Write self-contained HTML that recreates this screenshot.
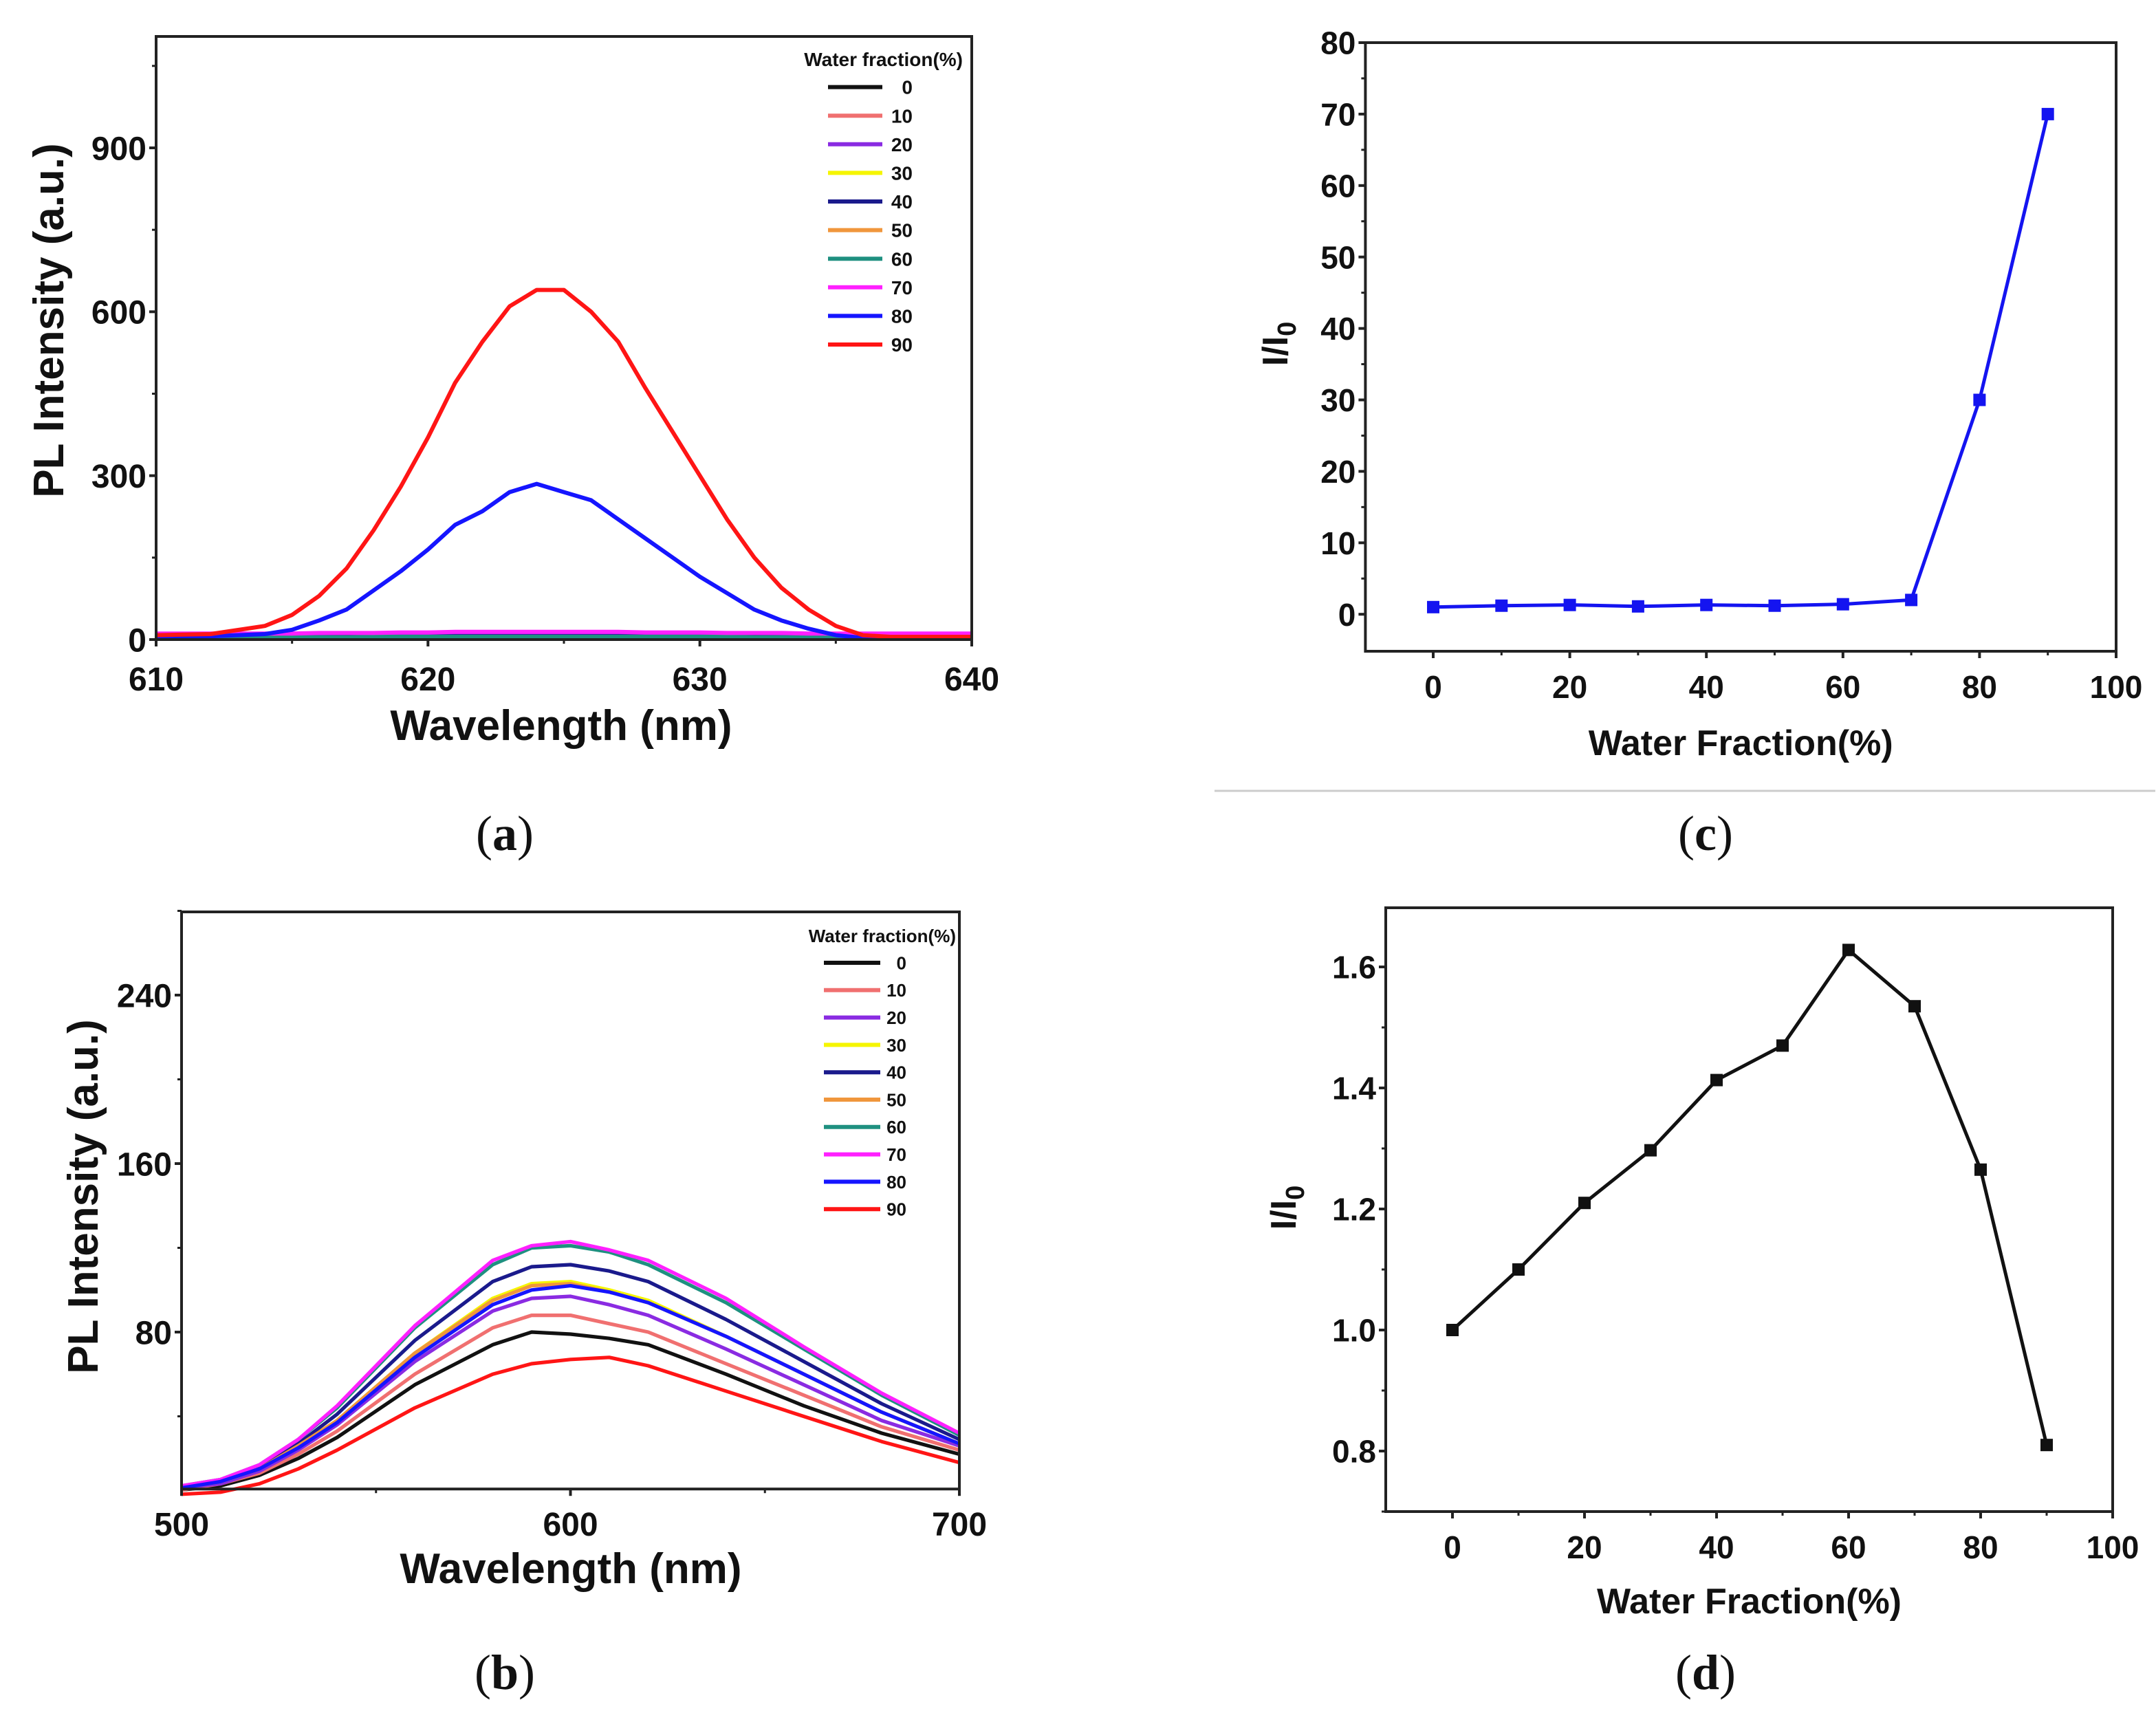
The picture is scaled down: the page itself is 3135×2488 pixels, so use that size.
<!DOCTYPE html>
<html><head><meta charset="utf-8"><style>
html,body{margin:0;padding:0;background:#fff;}
svg{display:block;}
text{font-family:"Liberation Sans",Arial,sans-serif;font-weight:bold;fill:#111;}
.lbl{font-family:"Liberation Serif",serif;font-weight:normal;font-size:36px;}
</style></head><body>
<svg id="fig" width="3135" height="2488" viewBox="0 0 1567.5 1244" xmlns="http://www.w3.org/2000/svg">
<rect x="0" y="0" width="1567.5" height="1244" fill="#fff"/>
<line x1="883" y1="575" x2="1567" y2="575" stroke="#ccc" stroke-width="1.5"/>
<text class="lbl" x="367" y="618" text-anchor="middle">(<tspan font-weight="bold">a</tspan>)</text>
<text class="lbl" x="1240" y="618" text-anchor="middle">(<tspan font-weight="bold">c</tspan>)</text>
<text class="lbl" x="367" y="1228" text-anchor="middle">(<tspan font-weight="bold">b</tspan>)</text>
<text class="lbl" x="1240" y="1228" text-anchor="middle">(<tspan font-weight="bold">d</tspan>)</text>
</svg>
<script>
const NS='http://www.w3.org/2000/svg';
const svg=document.getElementById('fig');
function mk(tag,attrs,parent,txt){const e=document.createElementNS(NS,tag);for(const k in attrs)e.setAttribute(k,attrs[k]);if(txt!==undefined)e.textContent=txt;(parent||svg).appendChild(e);return e;}

// ---------- Panel (a) data ----------
const aSeriesNames=['0','10','20','30','40','50','60','70','80','90'];
const aColors=['#111111','#f07070','#8a2be2','#f5f500','#1a1a8c','#f0963c','#1f9080','#ff20ff','#1515ff','#ff1515'];
const aWave=[610,612,614,615,616,617,618,619,620,621,622,623,624,625,626,627,628,629,630,631,632,633,634,635,636,637,640];
const a0=[2,2,2,2,2,2,2,2,2,3,3,3,3,3,3,3,3,3,3,2,2,2,2,2,2,2,2];
const a10=[5,5,5,5,5,5,6,6,6,7,7,7,7,7,7,7,6,6,6,6,6,5,5,5,5,5,5];
const a20=[7,7,7,7,8,8,8,9,9,10,10,10,10,10,10,10,9,9,9,8,8,8,8,7,7,7,7];
const a30=[3,3,3,3,3,3,3,3,4,4,4,4,4,4,4,4,4,4,4,3,3,3,3,3,3,3,3];
const a40=[4,4,4,4,4,5,5,5,5,6,6,6,6,6,6,6,5,5,5,5,5,4,4,4,4,4,4];
const a50=[3,3,3,3,3,3,4,4,4,4,4,4,4,4,4,4,4,4,4,4,3,3,3,3,3,3,3];
const a60=[4,4,4,4,4,4,5,5,5,5,5,5,5,5,5,5,5,5,5,5,4,4,4,4,4,4,4];
const a70=[11,11,11,11,12,12,12,13,13,14,14,14,14,14,14,14,13,13,13,12,12,12,11,11,11,11,11];
const a80=[5,6,10,18,35,55,90,125,165,210,235,270,285,270,255,220,185,150,115,85,55,35,20,8,3,2,2];
const a90=[8,10,25,45,80,130,200,280,370,470,545,610,640,640,600,545,460,380,300,220,150,95,55,25,8,5,5];
const aValues=[a0,a10,a20,a30,a40,a50,a60,a70,a80,a90];
const aXTicks=[610,620,630,640];
const aYTicks=[0,300,600,900];

// ---------- Panel (b) data ----------
const bWave=[500,510,520,530,540,560,580,590,600,610,620,640,660,680,700];
const b0=[5,7,12,20,30,55,74,80,79,77,74,60,45,32,22];
const b10=[5,8,13,22,33,60,82,88,88,84,80,65,50,35,24];
const b20=[6,8,14,24,36,66,90,96,97,93,88,72,55,38,26];
const b30=[6,9,15,26,38,70,96,103,104,100,95,78,60,42,27];
const b40=[6,9,16,27,41,76,104,111,112,109,104,86,66,46,29];
const b50=[6,9,15,26,38,70,95,102,103,99,94,78,60,42,27];
const b60=[7,10,17,29,44,82,112,120,121,118,112,94,72,50,31];
const b70=[7,10,17,29,45,83,114,121,123,119,114,96,73,51,32];
const b80=[6,9,15,25,37,68,93,100,102,99,94,78,60,42,27];
const b90=[3,4,8,15,24,44,60,65,67,68,64,52,40,28,18];
const bValues=[b0,b10,b20,b30,b40,b50,b60,b70,b80,b90];
const bXTicks=[500,600,700];
const bYTicks=[80,160,240];

// ---------- Panel (c) data ----------
const cFraction=[0,10,20,30,40,50,60,70,80,90];
const cRatio=[1.0,1.2,1.3,1.1,1.3,1.2,1.4,2.0,30,70];
const cXTicks=[0,20,40,60,80,100];
const cYTicks=[0,10,20,30,40,50,60,70,80];

// ---------- Panel (d) data ----------
const dFraction=[0,10,20,30,40,50,60,70,80,90];
const dRatio=[1.0,1.1,1.21,1.297,1.413,1.47,1.628,1.535,1.265,0.81];
const dXTicks=[0,20,40,60,80,100];
const dYTicks=[0.8,1.0,1.2,1.4,1.6];

function scale(d0,d1,r0,r1){return v=>r0+(v-d0)/(d1-d0)*(r1-r0);}

function frame(g,L,T,R,B,name){
  const r=mk('rect',{x:L,y:T,width:R-L,height:B-T,fill:'none',stroke:'#222','stroke-width':2},g);
  
  
}
function xTicks(g,ticks,sx,B,fs,off,name,minor){
  ticks.forEach(t=>{
    const l=mk('line',{x1:sx(t),y1:B,x2:sx(t),y2:B+5,stroke:'#222','stroke-width':2},g);
    
    
    const tx=mk('text',{x:sx(t),y:B+off,'text-anchor':'middle','font-size':fs},g,String(t));
    
    
  });
  (minor||[]).forEach(t=>{
    const l=mk('line',{x1:sx(t),y1:B,x2:sx(t),y2:B+3,stroke:'#222','stroke-width':1.5},g);
    
    
  });
}
function yTicks(g,ticks,sy,L,fs,fmt,name,minor){
  ticks.forEach(t=>{
    const l=mk('line',{x1:L-5,y1:sy(t),x2:L,y2:sy(t),stroke:'#222','stroke-width':2},g);
    
    
    const tx=mk('text',{x:L-7,y:sy(t)+fs*0.36,'text-anchor':'end','font-size':fs},g,fmt(t));
    
    
  });
  (minor||[]).forEach(t=>{
    const l=mk('line',{x1:L-3,y1:sy(t),x2:L,y2:sy(t),stroke:'#222','stroke-width':1.5},g);
    
    
  });
}
function legend(g,x1,x2,labR,titleR,titleY,y0,dy,fs,tfs){
  const t=mk('text',{x:titleR,y:titleY,'text-anchor':'end','font-size':tfs},g,'Water fraction(%)');
  
  
  aSeriesNames.forEach((n,i)=>{
    const y=y0+i*dy;
    const l=mk('line',{x1:x1,y1:y,x2:x2,y2:y,stroke:aColors[i],'stroke-width':3},g);
    
    
    const tx=mk('text',{x:labR,y:y+fs*0.36,'text-anchor':'end','font-size':fs},g,n);
    
    
  });
}

// ===== Panel a =====
(function(){
  const g=mk('g',{});
  
  
  const L=113.5,R=706.5,T=26.5,B=465;
  const sx=scale(610,640,L,R), sy=scale(0,900,465,107.5);
  aValues.forEach((vals,i)=>{
    const d=vals.map((v,j)=>(j?'L':'M')+sx(aWave[j]).toFixed(1)+','+sy(v).toFixed(1)).join('');
    const p=mk('path',{d:d,fill:'none',stroke:aColors[i],'stroke-width':3,'stroke-linejoin':'round'},g);
    
    
  });
  frame(g,L,T,R,B,'panel-a');
  xTicks(g,aXTicks,sx,B,24,37,'panel-a',[615,625,635]);
  yTicks(g,aYTicks,sy,L,24,String,'panel-a',[150,450,750,1050]);
  const xt=mk('text',{x:408,y:538,'text-anchor':'middle','font-size':31},g,'Wavelength (nm)');
  
  
  const yt=mk('text',{x:0,y:0,'text-anchor':'middle','font-size':31,transform:'translate(46,233) rotate(-90)'},g,'PL Intensity (a.u.)');
  
  
  legend(g,602,641.5,663.5,700,48,63.3,20.8,14,14);
})();

// ===== Panel b =====
(function(){
  const g=mk('g',{});
  
  
  const L=132,R=697.5,T=663,B=1082.6;
  const sx=scale(500,700,L,R), sy=scale(80,240,968.5,723.5);
  bValues.forEach((vals,i)=>{
    const d=vals.map((v,j)=>(j?'L':'M')+sx(bWave[j]).toFixed(1)+','+sy(v).toFixed(1)).join('');
    const p=mk('path',{d:d,fill:'none',stroke:aColors[i],'stroke-width':2.6,'stroke-linejoin':'round'},g);
    
    
  });
  frame(g,L,T,R,B,'panel-b');
  xTicks(g,bXTicks,sx,B,24,34,'panel-b',[550,650]);
  yTicks(g,bYTicks,sy,L,24,String,'panel-b',[40,120,200,280]);
  const xt=mk('text',{x:415,y:1151,'text-anchor':'middle','font-size':31},g,'Wavelength (nm)');
  
  
  const yt=mk('text',{x:0,y:0,'text-anchor':'middle','font-size':31,transform:'translate(71,870) rotate(-90)'},g,'PL Intensity (a.u.)');
  
  
  legend(g,599,640,659,695,685,700,19.9,13,13);
})();

function ratioPanel(name,xs,ys,xT,yT,L,R,T,B,sx,sy,color,fmt,xMinor,yMinor,xtY,ytX,ytY){
  const g=mk('g',{});
  
  
  frame(g,L,T,R,B,name);
  const d=xs.map((x,j)=>(j?'L':'M')+sx(x).toFixed(1)+','+sy(ys[j]).toFixed(1)).join('');
  const p=mk('path',{d:d,fill:'none',stroke:color,'stroke-width':2.5,'stroke-linejoin':'round'},g);
  
  
  xs.forEach((x,j)=>{
    const m=mk('rect',{x:sx(x)-4.5,y:sy(ys[j])-4.5,width:9,height:9,fill:color},g);
    
    
  });
  xTicks(g,xT,sx,B,23,34,name,xMinor);
  yTicks(g,yT,sy,L,23,fmt,name,yMinor);
  const xt=mk('text',{x:(L+R)/2,y:xtY,'text-anchor':'middle','font-size':26},g,'Water Fraction(%)');
  
  
  const yt=mk('text',{x:0,y:0,'text-anchor':'middle','font-size':26,transform:'translate('+ytX+','+ytY+') rotate(-90)'},g);
  
  
  yt.appendChild(document.createTextNode('I/I'));
  const ts=mk('tspan',{'font-size':19,dy:6},yt,'0');
}
// ===== Panel c =====
ratioPanel('panel-c',cFraction,cRatio,cXTicks,cYTicks,992.7,1538.5,31,473.5,
  scale(0,100,1042,1538.5),scale(0,80,446.6,31),'#1414f0',String,[10,30,50,70,90],[5,15,25,35,45,55,65,75],549,936,250);
// ===== Panel d =====
ratioPanel('panel-d',dFraction,dRatio,dXTicks,dYTicks,1007.5,1536,660,1099,
  scale(0,100,1056,1536),scale(1.0,1.6,967,703),'#111',v=>v.toFixed(1),[10,30,50,70,90],[0.7,0.9,1.1,1.3,1.5],1173,942,878);
</script>
</body></html>
